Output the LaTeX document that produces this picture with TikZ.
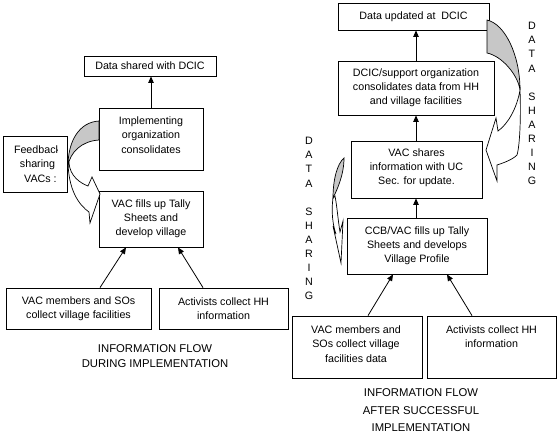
\documentclass[tikz,border=0pt]{standalone}
\usepackage{fontspec}
\setmainfont{Liberation Sans}
\usetikzlibrary{arrows.meta}
\begin{document}
\begin{tikzpicture}[x=1pt,y=-1pt,
  box/.style={draw=black, line width=0.8pt, fill=white, inner sep=0pt},
  txt/.style={align=center, font=\fontsize{10.7}{14.2}\selectfont, inner sep=0pt},
  vtxt/.style={align=center, font=\fontsize{10.7}{14.05}\selectfont, inner sep=0pt},
  captxt/.style={align=center, font=\fontsize{11.3}{15}\selectfont, inner sep=0pt},
  captxtb/.style={align=center, font=\fontsize{11.3}{17.5}\selectfont, inner sep=0pt},
  arr/.style={line width=0.8pt, -{Triangle[length=6.5pt,width=5.5pt]}},
  band/.style={draw=black, line width=0.7pt, fill=white},
  bandback/.style={draw=black, line width=0.7pt, fill=black!22}]
\useasboundingbox (0,0) rectangle (559,440);

% ---------------- left diagram ----------------
\node[box, minimum width=132pt, minimum height=20pt] (d1) at (150,66) {};
\node[txt] (d1t) at (d1.center) {Data shared with DCIC};

\node[box, minimum width=104pt, minimum height=62pt] (imp) at (151,139) {};
\node[txt] (impt) at (151,135) {Implementing\\organization\\consolidates};

\node[box, minimum width=64pt, minimum height=56pt] (fb) at (35,164) {};
\begin{scope}
  \clip (3,136) rectangle (57.5,192);
  \node[txt] (fbt) at (37.5,164) {Feedback\\sharing\\VACs\rlap{ :}};
\end{scope}

\node[box, minimum width=104pt, minimum height=56pt] (vac) at (151,219) {};
\node[txt] (vact) at (vac.center) {VAC fills up Tally\\Sheets and\\develop village};

\node[box, minimum width=145pt, minimum height=41pt] (bl) at (78.5,308.5) {};
\node[txt] (blt) at (bl.center) {VAC members and SOs\\collect village facilities};

\node[box, minimum width=129pt, minimum height=41pt] (br) at (223.5,308.5) {};
\node[txt] (brt) at (br.center) {Activists collect HH\\information};

\draw[arr] (imp.north) -- (imp.north |- d1.south);
\draw[arr] ([xshift=21.5pt]bl.north) -- ([xshift=-25pt]vac.south);
\draw[arr] ([xshift=-20.5pt]br.north) -- ([xshift=27pt]vac.south);

% curved feedback arrow
\draw[band] (68,160) .. controls (68,190) and (79,205) .. (89,212) -- (90,223)
  -- (100,194) -- (92,177) -- (88,186) .. controls (80,183) and (70,176) .. (69,163) -- cycle;
\draw[bandback] (99,121) .. controls (80,122) and (68,140) .. (68,166)
  .. controls (70,152) and (82,141) .. (99,140) -- cycle;

\node[captxt] (capl) at (155,356.5) {INFORMATION FLOW\\DURING IMPLEMENTATION};

% ---------------- right diagram ----------------
\node[box, minimum width=151pt, minimum height=27pt] (r1) at (413.5,16.5) {};
\node[txt] (r1t) at (r1.center) {Data updated at\ \ DCIC};

\node[box, minimum width=156pt, minimum height=54pt] (r2) at (416,88) {};
\node[txt] (r2t) at (r2.center) {DCIC/support organization\\consolidates data from HH\\and village facilities};

\node[box, minimum width=131pt, minimum height=57pt] (r3) at (416.5,169.5) {};
\node[txt] (r3t) at (416.5,168) {VAC shares\\information with UC\\Sec. for update.};

\node[box, minimum width=140pt, minimum height=56pt] (r4) at (417,246) {};
\node[txt] (r4t) at (r4.center) {CCB/VAC fills up Tally\\Sheets and develops\\Village Profile};

\node[box, minimum width=130pt, minimum height=62pt] (r5) at (357,347) {};
\node[txt] (r5t) at (356,344) {VAC members and\\SOs collect village\\facilities data};

\node[box, minimum width=129pt, minimum height=62pt] (r6) at (491.5,347) {};
\node[txt] (r6t) at (491.5,337) {Activists collect HH\\information};

\draw[arr] ([xshift=-0.5pt]r3.north) -- ([xshift=-0.5pt]r3.north |- r2.south);
\draw[arr] (r2.north) -- (r2.north |- r1.south);
\draw[arr] ([xshift=-1pt]r4.north) -- ([xshift=-1pt]r4.north |- r3.south);
\draw[arr] ([xshift=11pt]r5.north) -- ([xshift=-24pt]r4.south);
\draw[arr] ([xshift=-19.5pt]r6.north) -- ([xshift=30pt]r4.south);

% right curved arrow
\draw[band] (520,90) .. controls (521,115) and (520,145) .. (517,155)
  .. controls (512,160) and (503,163) .. (497,165) -- (497,181) -- (486,150)
  -- (496,118) -- (498,131) .. controls (508,124) and (517,108) .. (520,90) -- cycle;
\draw[bandback] (487,20) .. controls (505,24) and (520,55) .. (520,90)
  .. controls (518,75) and (502,56) .. (487,53) -- cycle;

% left small curved arrow
\draw[band] (333,198) .. controls (331,212) and (333,226) .. (336,234) -- (333,226)
  -- (341,263) -- (343,221) -- (340,232) .. controls (338,220) and (337,206) .. (335,196) -- cycle;
\draw[bandback] (344,158) .. controls (337,164) and (333,180) .. (333,198)
  .. controls (337,190) and (344,175) .. (344,158) -- cycle;

\node[vtxt] (dsr) at (532,103.5) {D\\A\\T\\A\\[14.05pt]S\\H\\A\\R\\I\\N\\G};
\node[vtxt] (dsl) at (309,218.5) {D\\A\\T\\A\\[14.05pt]S\\H\\A\\R\\I\\N\\G};

\node[captxtb] (capr) at (421,410.5) {INFORMATION FLOW\\AFTER SUCCESSFUL\\IMPLEMENTATION};
\end{tikzpicture}
\end{document}
